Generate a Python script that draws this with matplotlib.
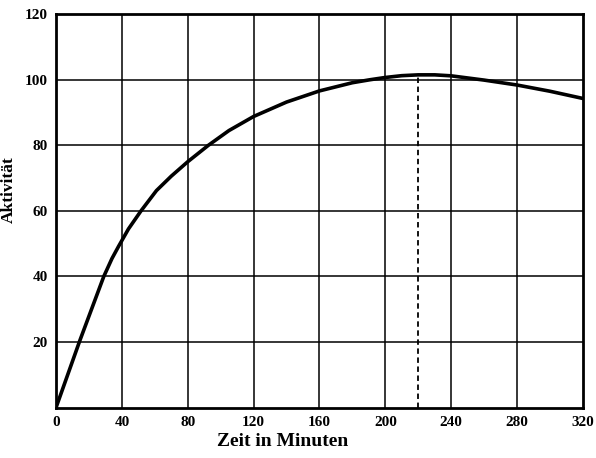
import numpy as np
from matplotlib import pyplot as plt

# values
zeit = [0, 14.5, 29, 34, 38, 44, 51.6, 61, 70, 80, 92.5, 105, 120, 140, 160,
        180, 190.6, 200, 210, 220, 230, 240, 260, 280, 300, 320]
aktivitaet = [0, 20.5, 40, 45.5, 49.2, 54.5, 60, 66.2, 70.6, 75, 80, 84.5,
              88.8, 93.2, 96.6, 99.1, 100, 100.7, 101.25, 101.5, 101.5, 101.2,
              99.9, 98.4, 96.5, 94.3]
max_zeit = 220
max_wert = 101.5

x_ticks = [0, 40, 80, 120, 160, 200, 240, 280, 320]
y_ticks = [20, 40, 60, 80, 100, 120]

plt.rcParams['font.family'] = ['Liberation Serif', 'DejaVu Serif']

fig = plt.figure(figsize=(5.96, 4.58), dpi=100)
ax = fig.add_axes([0.094, 0.110, 0.884, 0.859])

# grid
for xt in x_ticks[1:-1]:
    ax.axvline(xt, color='black', linewidth=1.1, zorder=1)
for yt in y_ticks[:-1]:
    ax.axhline(yt, color='black', linewidth=1.1, zorder=1)

# curve and dashed maximum
ax.plot(zeit, aktivitaet, color='black', linewidth=2.6, solid_joinstyle='round',
        solid_capstyle='round', zorder=3)
ax.plot([max_zeit, max_zeit], [0, max_wert], color='black', linewidth=1.3,
        linestyle=(0, (3, 2)), zorder=2)

ax.set_xlim(0, 320)
ax.set_ylim(0, 120)
ax.set_xticks(x_ticks)
ax.set_yticks(y_ticks)
ax.tick_params(length=0, labelsize=11, pad=6)
for lbl in ax.get_xticklabels() + ax.get_yticklabels():
    lbl.set_fontweight('bold')

for sp in ax.spines.values():
    sp.set_linewidth(2.0)

ax.set_xlabel('Zeit in Minuten', fontsize=14, fontweight='bold', labelpad=3)
ax.xaxis.set_label_coords(0.43, -0.065)
ax.set_ylabel('Aktivität', fontsize=12.5, fontweight='bold')
ax.yaxis.set_label_coords(-0.075, 0.555)

fig.savefig('out.png', dpi=100)
